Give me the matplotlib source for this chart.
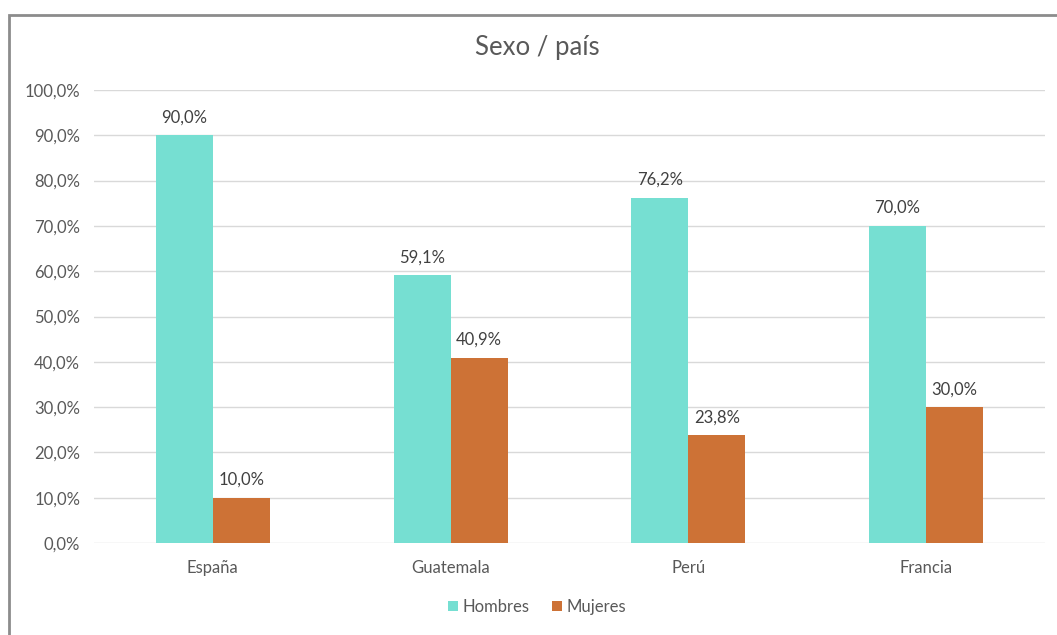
import matplotlib.pyplot as plt
import matplotlib.patches as patches
import numpy as np

plt.rcParams['font.family'] = ['Lato', 'DejaVu Sans']

paises = ["España", "Guatemala", "Perú", "Francia"]
hombres = [90.0, 59.1, 76.2, 70.0]
mujeres = [10.0, 40.9, 23.8, 30.0]
yticks = [0, 10, 20, 30, 40, 50, 60, 70, 80, 90, 100]

c_hom = "#76DFD2"
c_muj = "#CD7236"
gris = "#595959"

fig = plt.figure(figsize=(10.57, 6.35), dpi=100)
ax = fig.add_axes([94/1057, 1 - 543/635, 951/1057, 453/635])

x = np.arange(len(paises))
w = 0.24
b1 = ax.bar(x - w/2, hombres, w, color=c_hom, label="Hombres", zorder=3)
b2 = ax.bar(x + w/2, mujeres, w, color=c_muj, label="Mujeres", zorder=3)

for bars, vals in ((b1, hombres), (b2, mujeres)):
    for b, v in zip(bars, vals):
        ax.text(b.get_x() + b.get_width()/2, v + 2.2, f"{v:.1f}%".replace(".", ","),
                ha="center", va="bottom", fontsize=12, color="#404040")

ax.set_xlim(-0.5, 3.5)
ax.set_ylim(0, 100)
ax.set_yticks(yticks)
ax.set_yticklabels([f"{t:.1f}%".replace(".", ",") for t in yticks], fontsize=12, color=gris)
ax.set_xticks(x)
ax.set_xticklabels(paises, fontsize=12, color=gris)
ax.tick_params(length=0, pad=12)
ax.tick_params(axis="y", pad=10)
ax.grid(axis="y", color="#d9d9d9", linewidth=1, zorder=0)
for s in ax.spines.values():
    s.set_visible(False)

fig.text(537/1057, 1 - 47/635, "Sexo / país", ha="center", va="center", fontsize=18.5, color=gris)

fig.legend(loc="center", bbox_to_anchor=(537/1057, 1 - 607/635), ncol=2, frameon=False,
           fontsize=12, labelcolor=gris, handlelength=0.6, handleheight=0.6,
           handletextpad=0.3, columnspacing=1.3)

# marco del gráfico
fig.patches.append(patches.Rectangle((9/1057, -0.1), 1.2, 1 - 15/635 + 0.1,
                                     transform=fig.transFigure, fill=False,
                                     edgecolor="#8c8c8c", linewidth=2))

fig.savefig("out.png", dpi=100)
